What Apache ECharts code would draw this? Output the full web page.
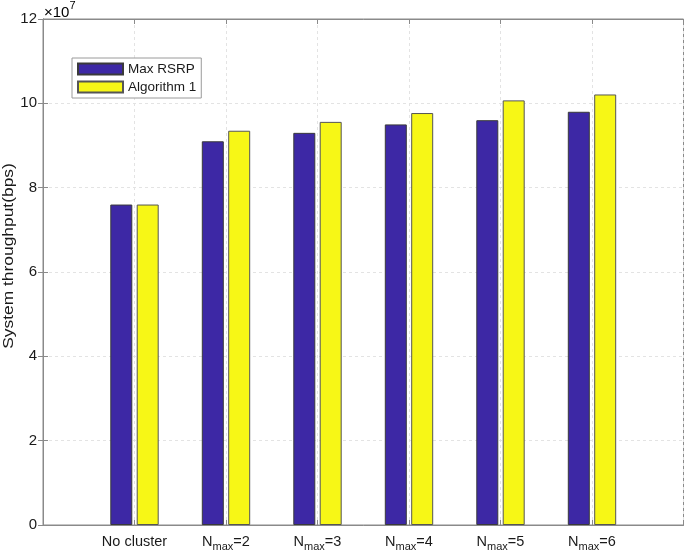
<!DOCTYPE html>
<html><head><meta charset="utf-8">
<script src="https://cdn.jsdelivr.net/npm/echarts@6/dist/echarts.min.js"></script>
<style>html,body{margin:0;padding:0;background:#fff}#c{width:685px;height:553px}</style>
</head><body><div id="c"></div>
<script>
const categories = ['No cluster', 'Nmax=2', 'Nmax=3', 'Nmax=4', 'Nmax=5', 'Nmax=6'];
const categoryLabels = ['{n|No cluster}', '{n|N}{s|max}{n|=2}', '{n|N}{s|max}{n|=3}', '{n|N}{s|max}{n|=4}', '{n|N}{s|max}{n|=5}', '{n|N}{s|max}{n|=6}'];
const maxRSRP = [7.6, 9.1, 9.3, 9.5, 9.6, 9.8];
const algorithm1 = [7.6, 9.35, 9.56, 9.77, 10.07, 10.21];
const yTicks = [0, 2, 4, 6, 8, 10, 12];
const yTitle = 'System throughput(bps)';

const FONT = 'Liberation Sans, Arial, Helvetica, sans-serif';
const chart = echarts.init(document.getElementById('c'));
const axisGray = '#8a8a8a';
const gridDash = {color: '#e3e3e3', type: [3, 3], width: 1};

chart.setOption({
  animation: false,
  textStyle: {fontFamily: FONT},
  grid: {left: 43, right: 1.5, top: 19, bottom: 28, show: true, borderColor: axisGray, borderWidth: 1,
    containLabel: false, outerBoundsMode: 'none'},
  legend: {
    orient: 'vertical', left: 72, top: 58,
    icon: 'rect',
    itemWidth: 45, itemHeight: 11, itemGap: 4,
    padding: [4, 5, 4, 5],
    borderColor: '#9a9a9a', borderWidth: 1, backgroundColor: '#fff',
    textStyle: {fontFamily: FONT, fontSize: 13.5, color: '#1a1a1a'},
    data: ['Max RSRP', 'Algorithm 1']
  },
  xAxis: [{
    type: 'value', min: 0, max: 7, interval: 1,
    axisLine: {show: true, onZero: false, lineStyle: {color: axisGray}},
    axisTick: {show: true, inside: true, length: 5, lineStyle: {color: axisGray}},
    splitLine: {show: true, lineStyle: gridDash},
    axisLabel: {
      margin: 9,
      formatter: v => (v >= 1 && v <= 6) ? categoryLabels[v - 1] : '',
      rich: {
        n: {fontFamily: FONT, fontSize: 14.5, color: '#1a1a1a', verticalAlign: 'top', lineHeight: 16},
        s: {fontFamily: FONT, fontSize: 11, color: '#1a1a1a', verticalAlign: 'top', padding: [7, 0, 0, 0], lineHeight: 16}
      }
    }
  }, {
    type: 'value', position: 'top', min: 0, max: 7, interval: 1,
    axisLine: {show: true, onZero: false, lineStyle: {color: axisGray}},
    axisTick: {show: true, inside: true, length: 5, lineStyle: {color: axisGray}},
    axisLabel: {show: false}, splitLine: {show: false}
  }],
  yAxis: [{
    type: 'value', min: 0, max: 12, interval: 2,
    axisLine: {show: true, lineStyle: {color: axisGray}},
    axisTick: {show: true, inside: true, length: 5, lineStyle: {color: axisGray}},
    splitLine: {show: true, lineStyle: gridDash},
    axisLabel: {fontFamily: FONT, fontSize: 15, color: '#1a1a1a', margin: 6,
      formatter: v => yTicks.includes(v) ? String(v) : ''}
  }, {
    type: 'value', position: 'right', min: 0, max: 12, interval: 2,
    axisLine: {show: true, lineStyle: {color: axisGray}},
    axisTick: {show: true, inside: true, length: 5, lineStyle: {color: axisGray}},
    axisLabel: {show: false}, splitLine: {show: false}
  }],
  graphic: [{
    type: 'text', left: 44, top: 0,
    style: {
      text: '{b|×10}{e|7}',
      rich: {
        b: {fontFamily: FONT, fontSize: 15, color: '#1a1a1a', verticalAlign: 'bottom', lineHeight: 20},
        e: {fontFamily: FONT, fontSize: 11, color: '#1a1a1a', verticalAlign: 'top', lineHeight: 20}
      }
    }
  }, {
    type: 'text', x: 9, y: 256, rotation: Math.PI / 2, scaleX: 1.2,
    style: {
      text: yTitle, fontFamily: FONT, fontSize: 14.5, fill: '#1a1a1a',
      align: 'center', verticalAlign: 'middle'
    }
  }],
  series: [{
    name: 'Max RSRP', type: 'bar', barWidth: 22, barGap: '20%',
    itemStyle: {color: '#3d28a5', borderColor: '#3a3a3a', borderWidth: 1},
    data: maxRSRP.map((v, i) => [i + 1, v])
  }, {
    name: 'Algorithm 1', type: 'bar', barWidth: 22, barGap: '20%',
    itemStyle: {color: '#f7f716', borderColor: '#555555', borderWidth: 1},
    data: algorithm1.map((v, i) => [i + 1, v])
  }]
});
</script></body></html>
